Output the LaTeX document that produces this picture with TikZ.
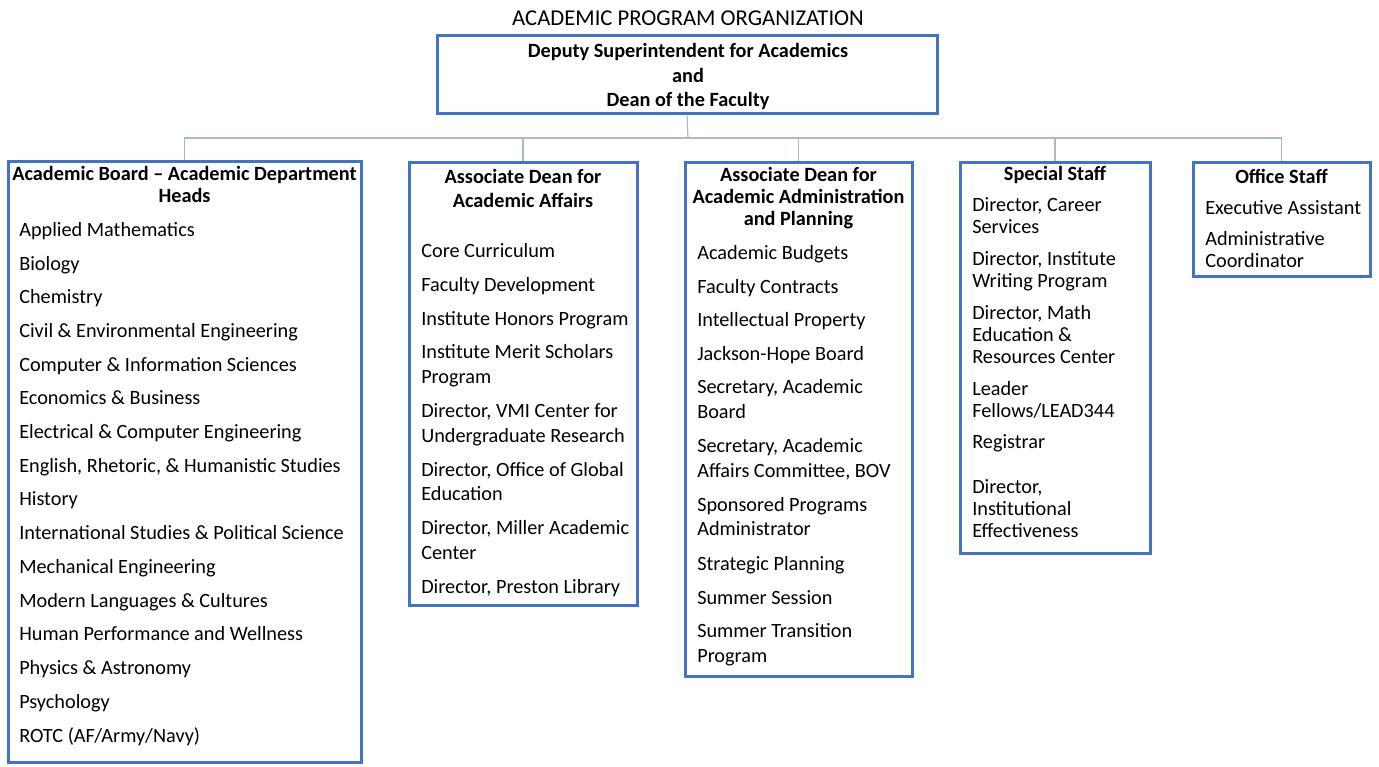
\documentclass[tikz,border=0pt]{standalone}
\usepackage{fontspec}
\setmainfont{Carlito}
\usetikzlibrary{fit}
\definecolor{boxblue}{RGB}{68,114,196}
\definecolor{linegray}{RGB}{170,185,200}
\tikzset{
  box/.style={draw=boxblue, line width=2.25pt, inner sep=0pt},
  conn/.style={draw=linegray, line width=0.9pt},
  head/.style={anchor=center, inner sep=0pt, font=\fontsize{15.2}{18}\selectfont\bfseries,
    text height=13pt, text depth=3.5pt},
  item/.style={anchor=west, inner sep=0pt, font=\fontsize{15.2}{18}\selectfont,
    text height=13pt, text depth=3.5pt}
}
\begin{document}
\begin{tikzpicture}[x=0.75pt, y=-0.75pt]
  \useasboundingbox (0,0) rectangle (1379,767);

  % Title and top box.
  \node[inner sep=0pt, font=\fontsize{17}{20}\selectfont] (title) at (688,18) {ACADEMIC PROGRAM ORGANIZATION};
  \node[box, fit={(437,36)(937,114)}] (dean) {};
  \node[head] (dean-1) at (688,51) {Deputy Superintendent for Academics};
  \node[head] (dean-2) at (688,76) {and};
  \node[head] (dean-3) at (688,100) {Dean of the Faculty};

  % The five boxes.
  \node[box, fit={(8,161)(361,762)}] (acad) {};
  \node[box, fit={(409,162)(637,605)}] (affairs) {};
  \node[box, fit={(685,162)(912,676)}] (admin) {};
  \node[box, fit={(960,162)(1150,553)}] (special) {};
  \node[box, fit={(1193,162)(1370,276)}] (office) {};

  % Connectors.
  \coordinate (bus) at (688,138);
  \draw[conn] (dean.south) -- (bus);
  \foreach \n in {acad,affairs,admin,special,office}
    \draw[conn] (bus) -| (\n.north);

  % Headings.
  \node[head] (acad-h1) at (184.5,174) {Academic Board -- Academic Department};
  \node[head] (acad-h2) at (184.5,196) {Heads};
  \node[head] (affairs-h1) at (523,177) {Associate Dean for};
  \node[head] (affairs-h2) at (523,201) {Academic Affairs};
  \node[head] (admin-h1) at (798.5,175) {Associate Dean for};
  \node[head] (admin-h2) at (798.5,197) {Academic Administration};
  \node[head] (admin-h3) at (798.5,219) {and Planning};
  \node[head] (special-h) at (1055,174) {Special Staff};
  \node[head] (office-h) at (1281.5,177) {Office Staff};

  % Academic departments.
  \foreach \y/\t [count=\i] in {230/{Applied Mathematics}, 264/{Biology}, 297/{Chemistry},
      331/{Civil \& Environmental Engineering}, 365/{Computer \& Information Sciences},
      398/{Economics \& Business}, 432/{Electrical \& Computer Engineering},
      466/{English, Rhetoric, \& Humanistic Studies}, 499/{History},
      533/{International Studies \& Political Science}, 567/{Mechanical Engineering},
      601/{Modern Languages \& Cultures}, 634/{Human Performance and Wellness},
      668/{Physics \& Astronomy}, 702/{Psychology}, 736/{ROTC (AF/Army/Navy)}}
    \node[item] (acad-\i) at (19,\y) {\t};

  % Academic affairs.
  \foreach \y/\t [count=\i] in {251/{Core Curriculum}, 285/{Faculty Development},
      319/{Institute Honors Program}, 352/{Institute Merit Scholars}, 377/{Program},
      411/{Director, VMI Center for}, 436/{Undergraduate Research},
      470/{Director, Office of Global}, 494/{Education},
      528/{Director, Miller Academic}, 553/{Center}, 587/{Director, Preston Library}}
    \node[item] (affairs-\i) at (421,\y) {\t};

  % Administration and planning.
  \foreach \y/\t [count=\i] in {253/{Academic Budgets}, 287/{Faculty Contracts},
      320/{Intellectual Property}, 354/{Jackson-Hope Board},
      387/{Secretary, Academic}, 412/{Board},
      446/{Secretary, Academic}, 471/{Affairs Committee, BOV},
      505/{Sponsored Programs}, 529/{Administrator}, 564/{Strategic Planning},
      598/{Summer Session}, 631/{Summer Transition}, 656/{Program}}
    \node[item] (admin-\i) at (697,\y) {\t};

  % Special staff.
  \foreach \y/\t [count=\i] in {205/{Director, Career}, 227/{Services},
      259/{Director, Institute}, 281/{Writing Program},
      313/{Director, Math}, 335/{Education \&}, 357/{Resources Center},
      389/{Leader}, 411/{Fellows/LEAD344}, 442/{Registrar},
      487/{Director,}, 509/{Institutional}, 531/{Effectiveness}}
    \node[item] (special-\i) at (972,\y) {\t};

  % Office staff.
  \foreach \y/\t [count=\i] in {208/{Executive Assistant}, 239/{Administrative}, 261/{Coordinator}}
    \node[item] (office-\i) at (1205,\y) {\t};
\end{tikzpicture}
\end{document}
